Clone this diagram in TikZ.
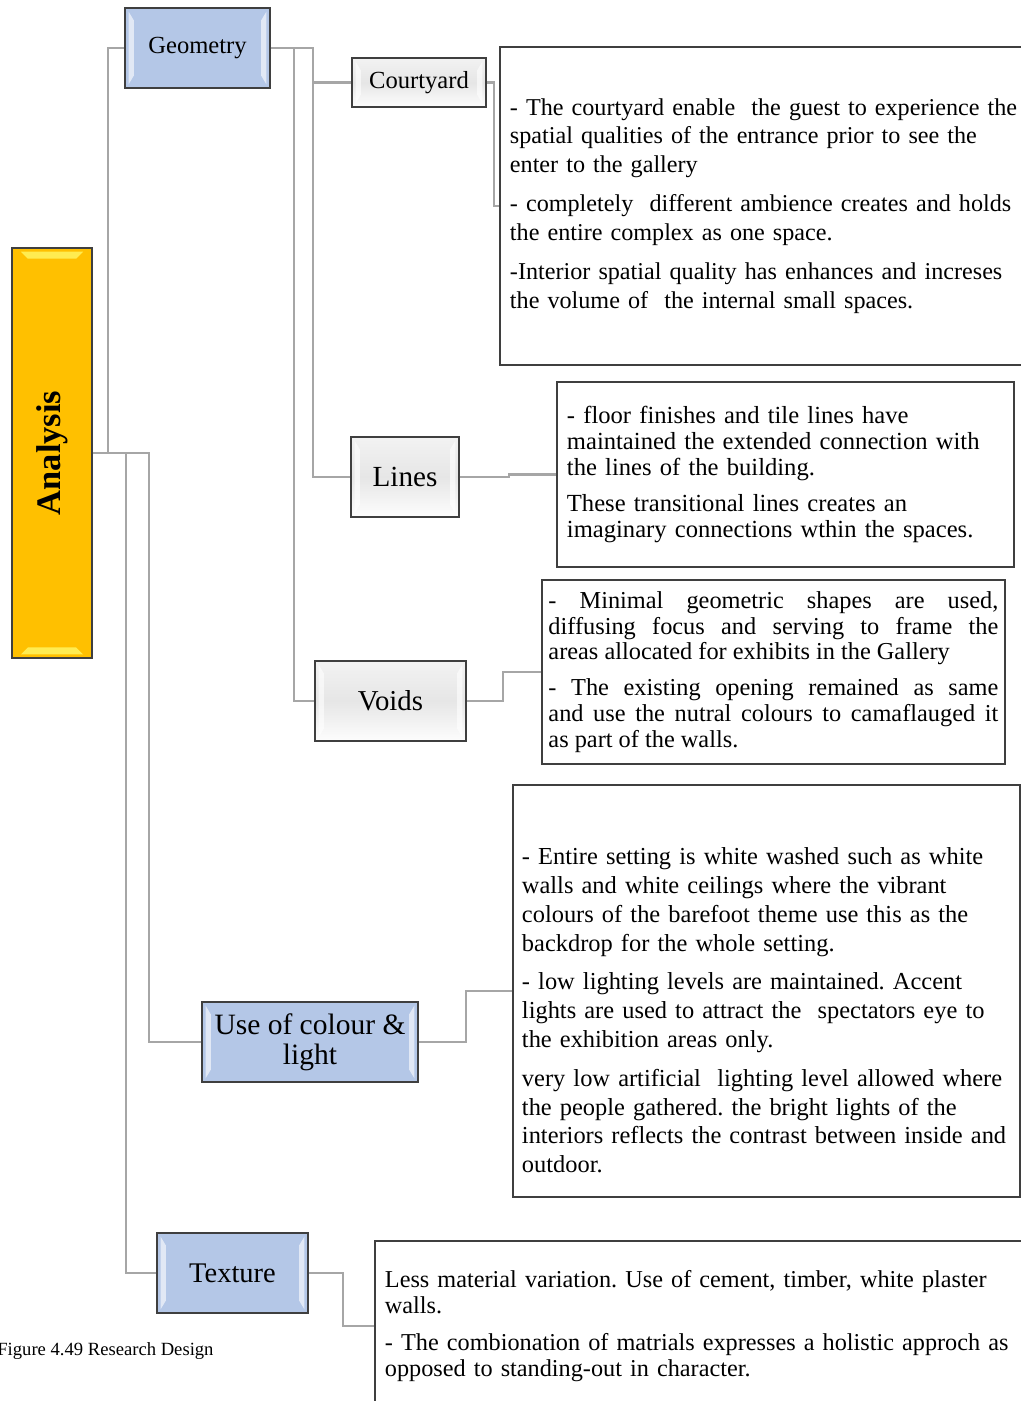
\documentclass[tikz,border=0pt]{standalone}
\usepackage{fontspec}
\setmainfont{Liberation Serif}
\usepackage{graphicx}
\frenchspacing
\definecolor{amber}{HTML}{FFC000}
\definecolor{steel}{HTML}{B4C7E7}
\definecolor{ash}{HTML}{E6E6E6}
\definecolor{edge}{HTML}{3F3F3F}
\definecolor{wire}{HTML}{A6A6A6}
\begin{document}
\begin{tikzpicture}[x=0.02cm,y=-0.02cm,
  % bevelled heading boxes
  tab/.style={draw=edge,line width=1.1pt,minimum height=1.6cm,align=center,inner sep=1pt,
    path picture={
      \fill[white,opacity=.6] ([xshift=2pt,yshift=-2pt]path picture bounding box.north west)
        -- ([xshift=5pt,yshift=-7pt]path picture bounding box.north west)
        -- ([xshift=5pt,yshift=7pt]path picture bounding box.south west)
        -- ([xshift=2pt,yshift=2pt]path picture bounding box.south west) -- cycle;
      \fill[white,opacity=.6] ([xshift=-2pt,yshift=-2pt]path picture bounding box.north east)
        -- ([xshift=-5pt,yshift=-7pt]path picture bounding box.north east)
        -- ([xshift=-5pt,yshift=7pt]path picture bounding box.south east)
        -- ([xshift=-2pt,yshift=2pt]path picture bounding box.south east) -- cycle;}},
  blue/.style={tab,fill=steel},
  grey/.style={tab,top color=ash!50,bottom color=ash!110!black,middle color=ash},
  note/.style={draw=edge,line width=1.1pt,anchor=north west,align=left,inner xsep=0.2cm,
    font=\fontsize{13.75pt}{16.3pt}\selectfont},
  wire/.style={draw=wire,line width=1.2pt},
]
\useasboundingbox (0,0) rectangle (1021,1401);

% root
\node[draw=edge,line width=1.1pt,fill=amber,minimum width=1.6cm,minimum height=8.2cm,inner sep=0pt,
  path picture={
    \fill[yellow!60!white,opacity=.8] ([xshift=5pt,yshift=-2pt]path picture bounding box.north west)
      -- ([xshift=-5pt,yshift=-2pt]path picture bounding box.north east)
      -- ([xshift=-9pt,yshift=-6pt]path picture bounding box.north east)
      -- ([xshift=9pt,yshift=-6pt]path picture bounding box.north west) -- cycle;
    \fill[yellow!60!white,opacity=.8] ([xshift=5pt,yshift=2pt]path picture bounding box.south west)
      -- ([xshift=-5pt,yshift=2pt]path picture bounding box.south east)
      -- ([xshift=-9pt,yshift=6pt]path picture bounding box.south east)
      -- ([xshift=9pt,yshift=6pt]path picture bounding box.south west) -- cycle;}]
  (ana) at (52,453) {\rotatebox{90}{\fontsize{19.6pt}{22pt}\selectfont\bfseries Analysis}};

% first level
\node[blue,minimum width=2.9cm,font=\fontsize{14pt}{16pt}\selectfont] (geo) at (197.5,48) {Geometry};
\node[blue,minimum width=4.32cm,font=\fontsize{16.8pt}{17pt}\selectfont] (colour) at (310,1042) {Use of colour \&\\light};
\node[blue,minimum width=3.02cm,font=\fontsize{16.2pt}{18pt}\selectfont] (tex) at (232.5,1273) {Texture};

% second level
\node[grey,minimum width=2.68cm,minimum height=0.98cm,font=\fontsize{14pt}{16pt}\selectfont] (court) at (419,82.5) {Courtyard};
\node[grey,minimum width=2.16cm,font=\fontsize{16.6pt}{18pt}\selectfont] (lines) at (405,477) {Lines};
\node[grey,minimum width=3.02cm,font=\fontsize{16.4pt}{18pt}\selectfont] (voids) at (390.5,701) {Voids};

% notes
\node[note,text width=10.6cm,minimum height=6.36cm] (courttxt) at (499,46) {%
- The courtyard enable\ \ the guest to experience the\\
spatial qualities of the entrance prior to see the\\
enter to the gallery\\[6pt]
- completely\ \ different ambience creates and holds\\
the entire complex as one space.\\[6pt]
-Interior spatial quality has enhances and increses\\
the volume of\ \ the internal small spaces.};

\node[note,text width=8.74cm,minimum height=3.7cm,font=\fontsize{14pt}{14.7pt}\selectfont] (linestxt) at (556,381) {%
- floor finishes and tile lines have\\
maintained the extended connection with\\
the lines of the building.\\[5.7pt]
These transitional lines creates an\\
imaginary connections wthin the spaces.};

\node[note,text width=9cm,inner xsep=0.13cm,minimum height=3.68cm,align=justify,font=\fontsize{13.85pt}{14.7pt}\selectfont] (voidstxt) at (541,579) {%
- Minimal geometric shapes are used,\linebreak
diffusing focus and serving to frame the\linebreak
areas allocated for exhibits in the Gallery\\[5.7pt]
- The existing opening remained as same\linebreak
and use the nutral colours to camaflauged it\linebreak
as part of the walls.};

\node[note,text width=9.78cm,inner xsep=0.18cm,minimum height=8.24cm,font=\fontsize{13.9pt}{16.4pt}\selectfont] (colourtxt) at (512,784) {%
\mbox{}\\[15.4pt]
- Entire setting is white washed such as white\\
walls and white ceilings where the vibrant\\
colours of the barefoot theme use this as the\\
backdrop for the whole setting.\\[5.7pt]
- low lighting levels are maintained. Accent\\
lights are used to attract the\ \ spectators eye to\\
the exhibition areas only.\\[5.7pt]
very low artificial\ \ lighting level allowed where\\
the people gathered. the bright lights of the\\
interiors reflects the contrast between inside and\\
outdoor.};

\node[note,text width=13cm,minimum height=3.4cm,font=\fontsize{13.8pt}{14.7pt}\selectfont] (textxt) at (374,1240) {%
Less material variation. Use of cement, timber, white plaster\\
walls.\\[6.2pt]
- The combionation of matrials expresses a holistic approch as\\
opposed to standing-out in character.};

\node[anchor=west,inner sep=0pt,font=\fontsize{10.6pt}{12pt}\selectfont] (caption) at (-3,1351) {Figure 4.49 Research Design};

% connectors
\draw[wire] (geo.west) -- ++(-16,0) |- (ana.east);
\draw[wire] (ana.east) -- ++(33,0) |- (tex.west);
\draw[wire] (ana.east) -- ++(56,0) |- (colour.west);
\draw[wire] (geo.east) -- ++(42,0) |- (court.west);
\draw[wire] (geo.east) -- ++(42,0) |- (lines.west);
\draw[wire] (geo.east) -- ++(23,0) |- (voids.west);
\draw[wire] (court.east) -- ++(7,0) |- (courttxt.west);
\draw[wire] (lines.east) -- ++(49,0) |- (linestxt.west);
\draw[wire] (voids.east) -- ++(36,0) |- (voidstxt.west);
\draw[wire] (colour.east) -- ++(47,0) |- (colourtxt.west);
\draw[wire] (tex.east) -- ++(34,0) |- (textxt.west);
\end{tikzpicture}
\end{document}
